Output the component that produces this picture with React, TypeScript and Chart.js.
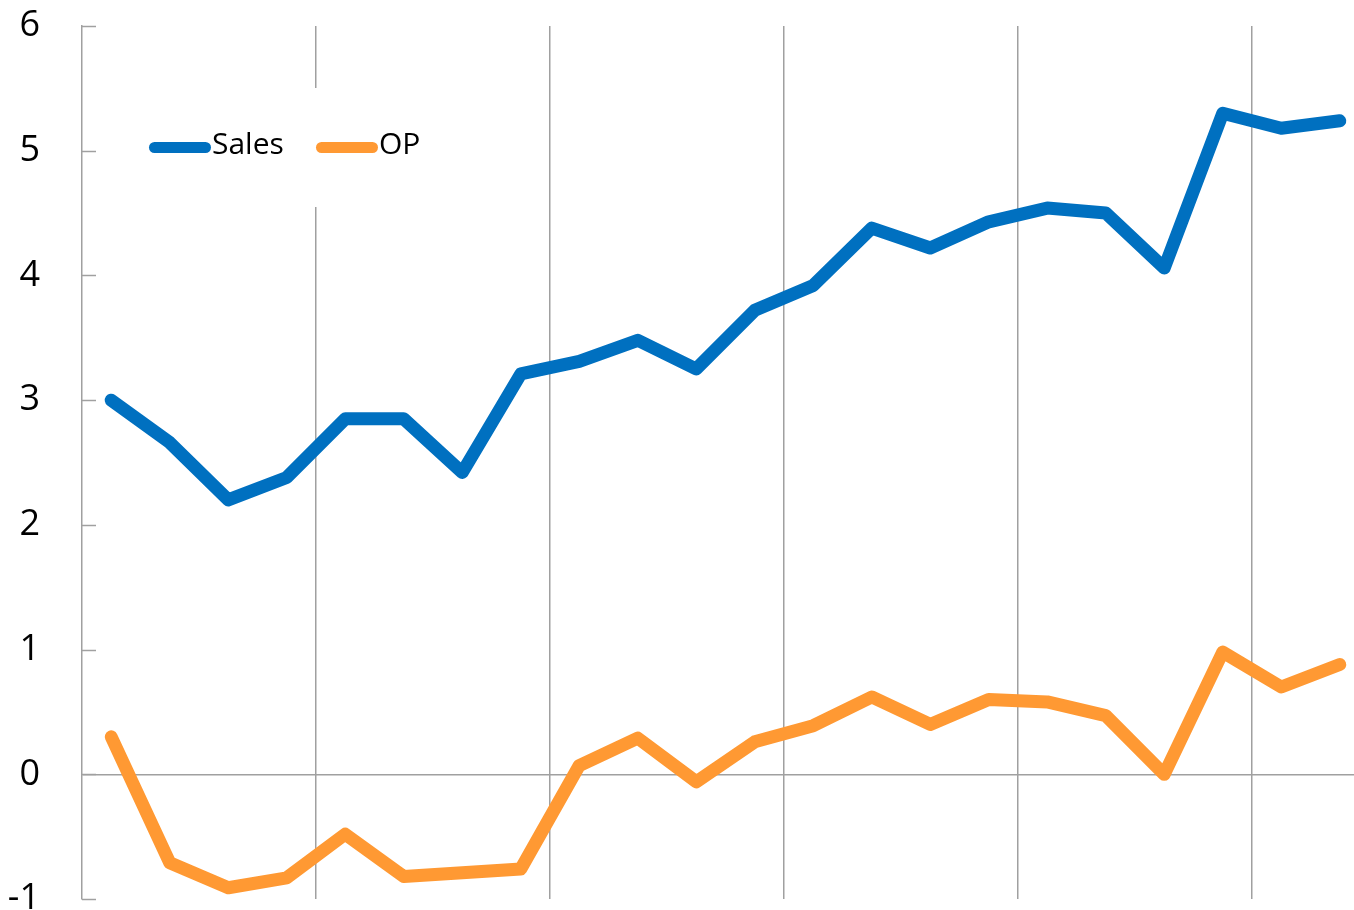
import React, { useEffect, useRef } from "react";
import { Chart, registerables } from "chart.js";

Chart.register(...registerables);

const categories = [
  "1Q16", "2Q16", "3Q16", "4Q16",
  "1Q17", "2Q17", "3Q17", "4Q17",
  "1Q18", "2Q18", "3Q18", "4Q18",
  "1Q19", "2Q19", "3Q19", "4Q19",
  "1Q20", "2Q20", "3Q20", "4Q20",
  "1Q21", "2Q21",
];
const salesValues = [3.0, 2.66, 2.2, 2.38, 2.85, 2.85, 2.42, 3.21, 3.31, 3.48, 3.25, 3.72, 3.92, 4.38, 4.22, 4.43, 4.54, 4.5, 4.06, 5.3, 5.18, 5.24];
const opValues = [0.3, -0.71, -0.91, -0.83, -0.48, -0.82, -0.79, -0.76, 0.07, 0.29, -0.06, 0.26, 0.39, 0.62, 0.4, 0.6, 0.58, 0.47, 0.0, 0.98, 0.7, 0.88];
const seriesNames = ["Sales", "OP"];
const seriesColors = ["#0070C0", "#FF9933"];
const yMin = -1;
const yMax = 6;

const GRID = "#a0a0a0";
const GRID_W = 1.5;
const FONT = "'Open Sans', 'Noto Sans', sans-serif";

const innerTicks = {
  id: "innerTicks",
  afterDraw(chart: any) {
    const y = chart.scales.y;
    const ctx = chart.ctx;
    const left = chart.chartArea.left;
    ctx.save();
    ctx.strokeStyle = GRID;
    ctx.lineWidth = GRID_W;
    y.ticks.forEach((t: any) => {
      const py = Math.round(y.getPixelForValue(t.value)) + 0.5;
      ctx.beginPath();
      ctx.moveTo(left, py);
      ctx.lineTo(left + 14, py);
      ctx.stroke();
    });
    ctx.restore();
  },
};

const boxLegend = {
  id: "boxLegend",
  afterDatasetsDraw(chart: any) {
    const ctx = chart.ctx;
    ctx.save();
    ctx.fillStyle = "#ffffff";
    ctx.fillRect(136, 88, 300, 119);
    ctx.font = `30px ${FONT}`;
    ctx.textBaseline = "alphabetic";
    ctx.textAlign = "left";
    const starts = [149, 316];
    chart.data.datasets.forEach((ds: any, i: number) => {
      const x0 = starts[i];
      ctx.strokeStyle = ds.borderColor;
      ctx.lineWidth = 11;
      ctx.lineCap = "round";
      ctx.beginPath();
      ctx.moveTo(x0 + 5.5, 147.5);
      ctx.lineTo(x0 + 56.5, 147.5);
      ctx.stroke();
      ctx.fillStyle = "#000000";
      ctx.fillText(ds.label, x0 + 63, 153.5);
    });
    ctx.restore();
  },
};

export default function App() {
  const ref = useRef<HTMLCanvasElement>(null);
  useEffect(() => {
    if (!ref.current) return;
    const chart = new Chart(ref.current, {
      type: "line",
      data: {
        labels: categories,
        datasets: [
          {
            label: seriesNames[0],
            data: salesValues,
            borderColor: seriesColors[0],
            backgroundColor: seriesColors[0],
            borderWidth: 13,
            pointRadius: 0,
            borderCapStyle: "round",
            borderJoinStyle: "round",
            tension: 0,
          },
          {
            label: seriesNames[1],
            data: opValues,
            borderColor: seriesColors[1],
            backgroundColor: seriesColors[1],
            borderWidth: 13,
            pointRadius: 0,
            borderCapStyle: "round",
            borderJoinStyle: "round",
            tension: 0,
          },
        ],
      },
      options: {
        responsive: false,
        animation: false,
        layout: { padding: { left: 0, top: 26, right: 31, bottom: 31 } },
        plugins: {
          legend: { display: false },
          tooltip: { enabled: false },
        },
        scales: {
          x: {
            type: "category",
            offset: true,
            grid: {
              offset: true,
              drawTicks: false,
              lineWidth: GRID_W,
              color: (c: any) => (c.index > 0 && c.index % 4 === 0 ? GRID : "rgba(0,0,0,0)"),
            },
            border: { display: false },
            ticks: { display: false },
            afterFit: (s: any) => {
              s.height = 0;
              s.paddingLeft = 0;
              s.paddingRight = 0;
            },
          },
          y: {
            min: yMin,
            max: yMax,
            grid: {
              drawTicks: false,
              lineWidth: GRID_W,
              color: (c: any) => (c.tick && c.tick.value === 0 ? GRID : "rgba(0,0,0,0)"),
            },
            border: { display: true, color: GRID, width: GRID_W },
            ticks: {
              stepSize: 1,
              padding: 42,
              color: "#000000",
              font: { family: FONT, size: 36 },
            },
            afterFit: (s: any) => {
              s.width = 82;
              s.paddingTop = 0;
              s.paddingBottom = 0;
            },
          },
        },
      },
      plugins: [innerTicks, boxLegend],
    });
    return () => chart.destroy();
  }, []);

  return (
    <div
      style={{
        position: "fixed",
        left: 0,
        top: 0,
        width: 1354,
        height: 910,
        overflow: "hidden",
        background: "#ffffff",
      }}
    >
      <canvas ref={ref} width={1400} height={930} style={{ width: 1400, height: 930, display: "block" }} />
    </div>
  );
}
